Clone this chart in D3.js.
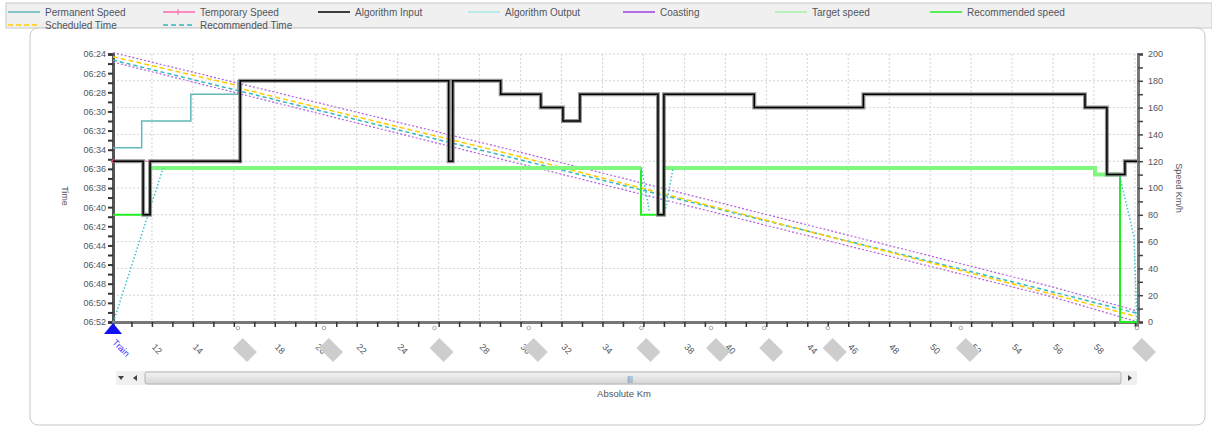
<!DOCTYPE html>
<html>
<head>
<meta charset="utf-8">
<script src="https://cdn.jsdelivr.net/npm/d3@7"></script>
<style>
  body { margin: 0; background: #fff; }
  svg { display: block; font-family: "Liberation Sans", Arial, sans-serif; }
</style>
</head>
<body>
<div id="chart"></div>
<script>
// ---- data (km, value) ----
const kmTickLabels = [12, 14, 16, 18, 20, 22, 24, 26, 28, 30, 32, 34, 36, 38, 40, 42, 44, 46, 48, 50, 52, 54, 56, 58, 60];
const timeTickLabels = ['06:24', '06:26', '06:28', '06:30', '06:32', '06:34', '06:36', '06:38', '06:40', '06:42', '06:44', '06:46', '06:48', '06:50', '06:52'];
const speedTickLabels = [0, 20, 40, 60, 80, 100, 120, 140, 160, 180, 200];
const stationKm = [16.2, 20.4, 25.8, 30.4, 35.9, 39.3, 41.9, 45.0, 51.5, 60.1];

const permanentSpeed = [[10.1, 130], [11.5, 130], [11.5, 150], [13.9, 150], [13.9, 170], [16.2, 170], [16.2, 180], [29.0, 180]];
const temporarySpeed = [[10.1, 120], [16.3, 120]];
const algorithmInput = [[10.1, 120], [11.57, 120], [11.57, 80], [11.91, 80], [11.91, 120], [16.31, 120], [16.31, 180],
  [26.49, 180], [26.49, 120], [26.69, 120], [26.69, 180], [29.03, 180], [29.03, 170], [30.99, 170], [30.99, 160],
  [32.07, 160], [32.07, 150], [32.9, 150], [32.9, 170], [36.71, 170], [36.71, 80], [37.0, 80], [37.0, 170],
  [41.41, 170], [41.41, 160], [46.74, 160], [46.74, 170], [57.56, 170], [57.56, 160], [58.63, 160], [58.63, 110],
  [59.51, 110], [59.51, 120], [60.1, 120]];
const algorithmOutput = [[10.12, 0], [12.55, 115], null, [35.9, 115], [36.3, 82], null, [37.05, 82], [37.45, 115],
  null, [59.27, 108], [59.95, 64], [60.1, 0]];
const targetSpeed = [[11.91, 115], [35.88, 115], null, [36.99, 115], [58.05, 115], [58.05, 110], [59.27, 110]];
const recommendedSpeed = [[10.1, 80], [11.91, 80], [11.91, 115], [35.88, 115], [35.88, 80], [36.99, 80], [36.99, 115],
  [58.05, 115], [58.05, 110], [59.27, 110], [59.27, 0], [60.1, 0]];

// times in minutes after 06:00
const scheduledTime = [[10.1, 24.28], [16.2, 27.3], [16.3, 27.6], [29.03, 34.21], [55.94, 49.08], [60.1, 51.45]];
const recommendedTime = [[10.1, 24.63], [29.03, 34.55], [55.94, 48.83], [60.1, 51.09]];
const coastingUpper = [[10.1, 23.86], [29.03, 33.75], [55.94, 48.31], [60.1, 50.85]];
const coastingLower = [[10.1, 24.84], [29.03, 34.97], [55.94, 49.36], [60.1, 51.97]];

const legendRow1 = ['Permanent Speed', 'Temporary Speed', 'Algorithm Input', 'Algorithm Output', 'Coasting', 'Target speed', 'Recommended speed'];
const legendRow2 = ['Scheduled Time', 'Recommended Time'];

const w = 1212, h = 430;
const pLeft = 113, pRight = 1137, pTop = 54, pBottom = 322;

const svg = d3.select('#chart').append('svg').attr('width', w).attr('height', h);

// background pieces
svg.append('rect').attr('x', 0).attr('y', 0).attr('width', w).attr('height', h).attr('fill', '#fff');
svg.append('rect').attr('x', 6).attr('y', 3).attr('width', w - 6).attr('height', 25)
  .attr('fill', '#f0f0f0').attr('stroke', '#c8c8c8');
svg.append('rect').attr('x', 30).attr('y', 28).attr('width', 1175).attr('height', 397)
  .attr('rx', 8).attr('fill', '#fff').attr('stroke', '#c8c8c8');

// scales
const x = d3.scaleLinear().domain([10.1, 60.1]).range([pLeft, pRight]);
const yTime = d3.scaleLinear().domain([24, 52]).range([pTop, pBottom]);
const ySpeed = d3.scaleLinear().domain([0, 200]).range([pBottom, pTop]);

// grid
const grid = svg.append('g').attr('stroke', '#d4d4d4').attr('stroke-dasharray', '2,2');
grid.selectAll('.gx').data(kmTickLabels).enter().append('line')
  .attr('x1', d => x(d)).attr('x2', d => x(d)).attr('y1', pTop).attr('y2', pBottom);
grid.selectAll('.gy').data(speedTickLabels.slice(1)).enter().append('line')
  .attr('x1', pLeft).attr('x2', pRight).attr('y1', d => ySpeed(d)).attr('y2', d => ySpeed(d));

// axes
const leftAxis = d3.axisLeft(yTime).tickValues(d3.range(24, 53, 1)).tickSize(5)
  .tickFormat(d => d % 2 === 0 ? timeTickLabels[(d - 24) / 2] : '');
const gl = svg.append('g').attr('transform', `translate(${pLeft},0)`).call(leftAxis);
gl.select('.domain').attr('stroke', '#555').attr('stroke-width', 3);
gl.selectAll('.tick line').attr('stroke', '#333').attr('stroke-width', 2);
gl.selectAll('.tick text').attr('font-size', 9).attr('fill', '#505560').attr('x', -7);

const rightAxis = d3.axisRight(ySpeed).tickValues(d3.range(0, 201, 10)).tickSize(5)
  .tickFormat(d => speedTickLabels.includes(d) ? d : '');
const gr = svg.append('g').attr('transform', `translate(${pRight + 1},0)`).call(rightAxis);
gr.select('.domain').attr('stroke', '#777').attr('stroke-width', 3);
gr.selectAll('.tick line').attr('stroke', '#444').attr('stroke-width', 1.5);
gr.selectAll('.tick text').attr('font-size', 9).attr('fill', '#505560').attr('x', 10);

const bottomAxis = d3.axisBottom(x).tickValues(d3.range(11, 61, 1)).tickSize(5).tickFormat('');
const gb = svg.append('g').attr('transform', `translate(0,${pBottom})`).call(bottomAxis);
gb.select('.domain').attr('stroke', '#777').attr('stroke-width', 3);
gb.selectAll('.tick line').attr('stroke', '#333').attr('stroke-width', 1.5);

// km labels rotated
svg.append('g').selectAll('text').data(kmTickLabels).enter().append('text')
  .attr('transform', d => `translate(${x(d) + 5},349) rotate(45)`)
  .attr('text-anchor', 'middle').attr('dominant-baseline', 'central')
  .attr('font-size', 9).attr('fill', '#505560').text(d => d);

// station boxes
svg.append('g').selectAll('rect').data(stationKm).enter().append('rect')
  .attr('transform', d => `translate(${x(d) + 7},350) rotate(45)`)
  .attr('x', -10).attr('y', -7).attr('width', 20).attr('height', 14)
  .attr('fill', '#cdcdcd');
svg.append('g').selectAll('circle').data(stationKm).enter().append('circle')
  .attr('cx', d => x(d)).attr('cy', 328).attr('r', 1.8)
  .attr('fill', 'none').attr('stroke', '#aaa');

// axis titles
svg.append('text').attr('transform', 'translate(62,196) rotate(90)').attr('text-anchor', 'middle')
  .attr('font-size', 9).attr('fill', '#505560').text('Time');
svg.append('text').attr('transform', 'translate(1176,188) rotate(90)').attr('text-anchor', 'middle')
  .attr('font-size', 9).attr('fill', '#505560').text('Speed Km/h');

// line generators
const speedLine = d3.line().defined(d => d !== null).x(d => x(d[0])).y(d => ySpeed(d[1]));
const timeLine = d3.line().x(d => x(d[0])).y(d => yTime(d[1]));

const plot = svg.append('g');

// time lines
plot.append('path').attr('d', timeLine(coastingUpper)).attr('fill', 'none')
  .attr('stroke', '#b060e0').attr('stroke-width', 1.2).attr('stroke-dasharray', '2,2');
plot.append('path').attr('d', timeLine(coastingLower)).attr('fill', 'none')
  .attr('stroke', '#b060e0').attr('stroke-width', 1.2).attr('stroke-dasharray', '2,2');
plot.append('path').attr('d', timeLine(recommendedTime)).attr('fill', 'none')
  .attr('stroke', '#30b8c0').attr('stroke-width', 1.5).attr('stroke-dasharray', '4,3');
plot.append('path').attr('d', timeLine(scheduledTime)).attr('fill', 'none')
  .attr('stroke', '#ffcc00').attr('stroke-width', 1.5).attr('stroke-dasharray', '5,3');

// speed lines
plot.append('path').attr('d', speedLine(permanentSpeed)).attr('fill', 'none')
  .attr('stroke', '#60b8b8').attr('stroke-width', 1.5);
plot.append('path').attr('d', speedLine(recommendedSpeed)).attr('fill', 'none')
  .attr('stroke', '#22ee22').attr('stroke-width', 2);
plot.append('path').attr('d', speedLine(targetSpeed)).attr('fill', 'none')
  .attr('stroke', '#80f880').attr('stroke-width', 4);
plot.append('path').attr('d', speedLine(algorithmOutput)).attr('fill', 'none')
  .attr('stroke', '#40c4c8').attr('stroke-width', 1.5).attr('stroke-dasharray', '1.5,2');
plot.append('path').attr('d', speedLine(temporarySpeed)).attr('fill', 'none')
  .attr('stroke', '#ff66b0').attr('stroke-width', 1);
plot.selectAll('.tmp').data(temporarySpeed).enter().append('circle')
  .attr('cx', d => x(d[0])).attr('cy', d => ySpeed(d[1])).attr('r', 2).attr('fill', '#d04080');
plot.append('path').attr('d', speedLine(algorithmInput)).attr('fill', 'none')
  .attr('stroke', '#7a7a7a').attr('stroke-width', 4).attr('stroke-opacity', 0.8);
plot.append('path').attr('d', speedLine(algorithmInput)).attr('fill', 'none')
  .attr('stroke', '#000').attr('stroke-width', 1.5);

// train marker
svg.append('path').attr('d', `M${pLeft},323 L${pLeft + 9},334 L${pLeft - 9},334 Z`).attr('fill', '#1010f0');
svg.append('text').attr('transform', `translate(${pLeft + 8},348) rotate(45)`).attr('text-anchor', 'middle')
  .attr('dominant-baseline', 'central').attr('font-size', 9).attr('fill', '#3030ff').text('Train');

// scrollbar
const sb = svg.append('g');
sb.append('rect').attr('x', 116).attr('y', 371).attr('width', 1021).attr('height', 14).attr('fill', '#f0f0f0');
sb.append('path').attr('d', 'M118,376 L124,376 L121,380 Z').attr('fill', '#444');
sb.append('path').attr('d', 'M137,375 L137,381 L133,378 Z').attr('fill', '#444');
sb.append('path').attr('d', 'M1128,375 L1128,381 L1132,378 Z').attr('fill', '#444');
const grad = svg.append('defs').append('linearGradient').attr('id', 'thumb').attr('x1', 0).attr('x2', 0).attr('y1', 0).attr('y2', 1);
grad.append('stop').attr('offset', '0%').attr('stop-color', '#f4f4f4');
grad.append('stop').attr('offset', '100%').attr('stop-color', '#d6d6d6');
sb.append('rect').attr('x', 145).attr('y', 372).attr('width', 976).attr('height', 12).attr('rx', 2)
  .attr('fill', 'url(#thumb)').attr('stroke', '#b4b4b4');
sb.append('text').attr('x', 630).attr('y', 381).attr('text-anchor', 'middle').attr('font-size', 7).attr('fill', '#666').text('|||');
svg.append('text').attr('x', 624).attr('y', 397).attr('text-anchor', 'middle')
  .attr('font-size', 9.5).attr('fill', '#505560').text('Absolute Km');

// legend
const legendColors1 = ['#60b8b8', '#ff66b0', '#000', '#a8eaea', '#a040e0', '#a8f0a8', '#22ee22'];
const legendX1 = [8, 163, 318, 468, 623, 775, 930];
const lg = svg.append('g');
legendRow1.forEach((name, i) => {
  lg.append('line').attr('x1', legendX1[i]).attr('x2', legendX1[i] + 32).attr('y1', 12).attr('y2', 12)
    .attr('stroke', legendColors1[i]).attr('stroke-width', 1.5);
  lg.append('text').attr('x', legendX1[i] + 37).attr('y', 16).attr('font-size', 10).attr('fill', '#505560').text(name);
});
lg.append('path').attr('d', 'M178,9 L178,15').attr('stroke', '#ff66b0');
const legendColors2 = ['#ffcc00', '#30b8c0'];
const legendX2 = [8, 163];
legendRow2.forEach((name, i) => {
  lg.append('line').attr('x1', legendX2[i]).attr('x2', legendX2[i] + 32).attr('y1', 25).attr('y2', 25)
    .attr('stroke', legendColors2[i]).attr('stroke-width', 1.5).attr('stroke-dasharray', '5,3');
  lg.append('text').attr('x', legendX2[i] + 37).attr('y', 29).attr('font-size', 10).attr('fill', '#505560').text(name);
});
</script>
</body>
</html>
